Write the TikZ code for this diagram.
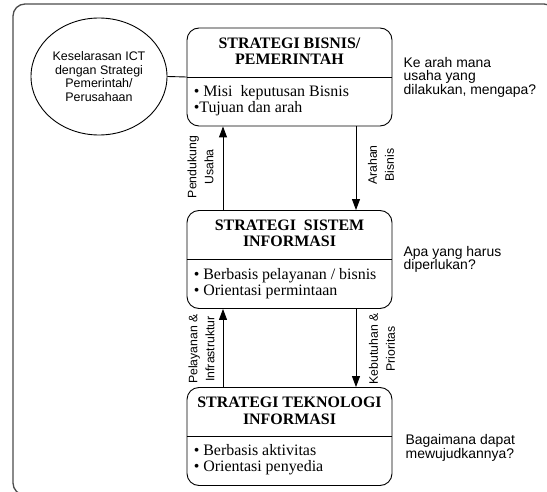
\documentclass[tikz,border=0pt]{standalone}
\usepackage{fontspec}
\setmainfont{Liberation Serif}
\newfontfamily\arialfont{Liberation Sans}
\usetikzlibrary{shapes.geometric,arrows.meta}
\begin{document}
\begin{tikzpicture}[x=1bp,y=-1bp,
  stratbox/.style={draw=black, line width=0.9bp, rounded corners=12bp,
    minimum width=205bp, minimum height=98bp, inner sep=0pt},
  titletext/.style={font=\fontsize{16}{16.5}\selectfont\bfseries,
    align=center, inner sep=0pt, anchor=north},
  bullettext/.style={font=\fontsize{16}{16}\selectfont,
    align=left, inner sep=0pt, anchor=north west},
  sidetext/.style={font=\arialfont\fontsize{14}{13.5}\selectfont,
    align=left, inner sep=0pt, anchor=north west},
  flowlabel/.style={font=\arialfont\fontsize{12.3}{17}\selectfont,
    align=center, rotate=90, inner sep=0pt},
  flow/.style={line width=0.9bp, -{Triangle[length=11bp,width=8bp]}},
  divider/.style={line width=0.9bp},
]
\useasboundingbox (0,0) rectangle (547,492);

% outer frame, running past the right and bottom edges
\begin{scope}
  \clip (0,0) rectangle (547,492);
  \draw[gray!60!black, line width=1.3bp, rounded corners=12bp]
    (13,4) rectangle (556,495);
\end{scope}

% the three strategy boxes
\node[stratbox] (bis) at (289.5,77) {};
\node[stratbox] (sis) at (289.5,259.5) {};
\node[stratbox] (tek) at (289.5,436.5) {};

\draw[divider] (bis.west) -- (bis.east);
\draw[divider] (sis.west) -- (sis.east);
\draw[divider] (tek.west) -- (tek.east);

% alignment ellipse
\node[draw, ellipse, line width=0.9bp, minimum width=136bp, minimum height=117bp,
  inner sep=0pt, align=center, font=\arialfont\fontsize{12.5}{13.5}\selectfont]
  (ict) at (99,76.5) {Keselarasan ICT\\dengan Strategi\\Pemerintah/\\Perusahaan};
\draw[divider] (ict.east) -- (bis.west);

% box titles
\node[titletext] (bis-t) at ([yshift=-10bp]bis.north) {STRATEGI BISNIS/\\PEMERINTAH};
\node[titletext] (sis-t) at ([yshift=-9.5bp]sis.north) {STRATEGI\ \ SISTEM\\INFORMASI};
\node[titletext] (tek-t) at ([yshift=-10bp]tek.north) {STRATEGI TEKNOLOGI\\INFORMASI};

% box contents
\node[bullettext] (bis-b) at ([xshift=7bp,yshift=-58bp]bis.north west)
  {• Misi\ \ keputusan Bisnis\\•Tujuan dan arah};
\node[bullettext] (sis-b) at ([xshift=7bp,yshift=-58bp]sis.north west)
  {• Berbasis pelayanan / bisnis\\• Orientasi permintaan};
\node[bullettext] (tek-b) at ([xshift=7bp,yshift=-57bp]tek.north west)
  {• Berbasis aktivitas\\• Orientasi penyedia};

% questions beside the boxes
\node[sidetext] (bis-q) at ([xshift=11bp,yshift=20bp]bis.east)
  {Ke arah mana\\usaha yang\\dilakukan, mengapa?};
\node[sidetext] (sis-q) at ([xshift=11bp,yshift=13.5bp]sis.east)
  {Apa yang harus\\diperlukan?};
\node[sidetext] (tek-q) at ([xshift=13bp,yshift=2bp]tek.east)
  {Bagaimana dapat\\mewujudkannya?};

% flows between the levels
\coordinate (up1a) at ([xshift=-66.5bp]sis.north);
\coordinate (up1b) at ([xshift=-66.5bp]bis.south);
\coordinate (dn1a) at ([xshift=66.5bp]bis.south);
\coordinate (dn1b) at ([xshift=66.5bp]sis.north);
\coordinate (up2a) at ([xshift=-66.5bp]tek.north);
\coordinate (up2b) at ([xshift=-66.5bp]sis.south);
\coordinate (dn2a) at ([xshift=66.5bp]sis.south);
\coordinate (dn2b) at ([xshift=66.5bp]tek.north);
\draw[flow] (up1a) -- (up1b);
\draw[flow] (dn1a) -- (dn1b);
\draw[flow] (up2a) -- (up2b);
\draw[flow] (dn2a) -- (dn2b);

\node[flowlabel] (l-up1) at (200.5,167) {Pendukung\\Usaha};
\node[flowlabel] (l-dn1) at (381,165) {Arahan\\Bisnis};
\node[flowlabel] (l-up2) at (201.5,349) {Pelayanan \&\\Infrastruktur};
\node[flowlabel] (l-dn2) at (382,349) {Kebutuhan \&\\Prioritas};
\end{tikzpicture}
\end{document}
